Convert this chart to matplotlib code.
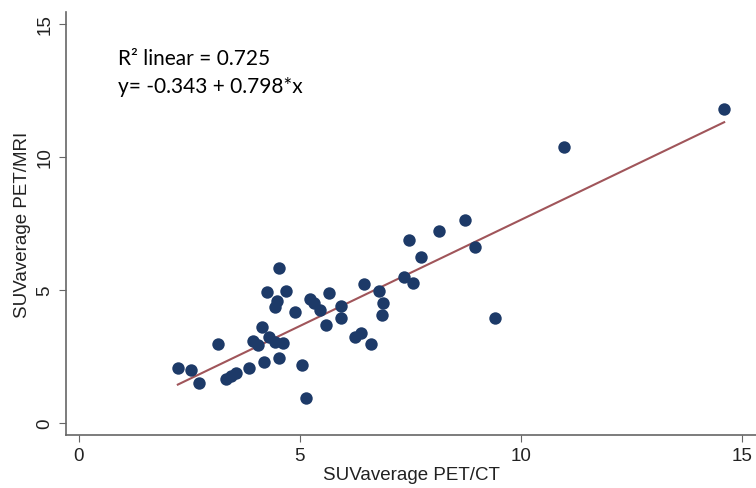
import numpy as np
import matplotlib.pyplot as plt

# SUVaverage values
pet_ct = [2.24, 2.54, 2.72, 3.15, 3.33, 3.45, 3.56, 3.85, 3.95, 4.06, 4.15, 4.20,
          4.31, 4.44, 4.63, 4.54, 4.26, 4.49, 4.44, 4.54, 4.69, 4.90, 5.06, 5.15,
          5.24, 5.31, 5.46, 5.65, 5.60, 5.94, 5.94, 6.24, 6.39, 6.46, 6.62, 6.78,
          6.89, 6.85, 7.35, 7.57, 7.73, 7.48, 8.14, 8.73, 8.96, 9.41, 10.97, 14.60]
pet_mri = [2.07, 1.99, 1.50, 2.97, 1.65, 1.77, 1.88, 2.07, 3.08, 2.93, 3.61, 2.29,
           3.23, 3.05, 3.00, 2.44, 4.92, 4.59, 4.36, 5.83, 4.96, 4.17, 2.18, 0.94,
           4.66, 4.51, 4.25, 4.89, 3.68, 4.40, 3.95, 3.23, 3.38, 5.23, 2.97, 4.96,
           4.51, 4.06, 5.49, 5.26, 6.24, 6.88, 7.22, 7.63, 6.62, 3.95, 10.38, 11.80]
intercept, slope = -0.343, 0.798
ticks = [0, 5, 10, 15]

plt.rcParams['font.family'] = ['Liberation Sans', 'DejaVu Sans']
fig = plt.figure(figsize=(7.56, 4.89), dpi=100)
ax = fig.add_axes([0.0873, 0.1084, 0.9127, 0.865])

ax.scatter(pet_ct, pet_mri, s=80, color='#1d3a68', zorder=3, linewidths=0)
xl = np.array([min(pet_ct), max(pet_ct)])
ax.plot(xl, intercept + slope * xl, color='#a0555a', lw=1.5, zorder=2)

ax.set_xlim(-0.29, 15.32)
ax.set_ylim(-0.45, 15.45)
ax.set_xticks(ticks)
ax.set_yticks(ticks)
ax.set_yticklabels([str(t) for t in ticks], rotation=90, va='center')
ax.tick_params(direction='out', length=5, color='#666666', labelsize=13.5,
               labelcolor='#222222', pad=4)
for s in ['top', 'right']:
    ax.spines[s].set_visible(False)
for s in ['left', 'bottom']:
    ax.spines[s].set_color('#666666')
    ax.spines[s].set_linewidth(1.2)
ax.set_xlabel('SUVaverage PET/CT', fontsize=13.5, labelpad=1, color='#222222')
ax.set_ylabel('SUVaverage PET/MRI', fontsize=13.5, labelpad=4, color='#222222')

ax.text(0.88, 13.5, 'R² linear = 0.725', family=['Lato', 'DejaVu Sans'], fontsize=15, va='baseline')
ax.text(0.88, 12.44, 'y= -0.343 + 0.798*x', family=['Lato', 'DejaVu Sans'], fontsize=15, va='baseline')

fig.savefig('out.png', dpi=100)
